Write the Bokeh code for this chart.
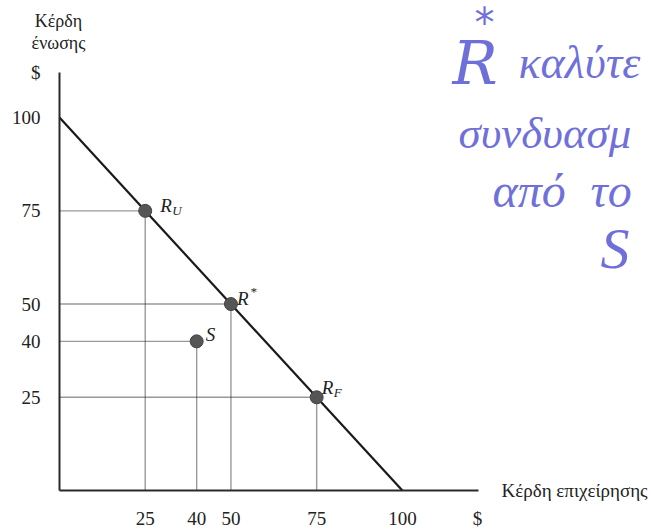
from bokeh.plotting import figure
from bokeh.models import Range1d, FixedTicker, Label, ColumnDataSource
from bokeh.core.properties import value
from bokeh.embed import file_html
from bokeh.resources import INLINE

# ---------------- data ----------------
point_main = ["R", "R", "S", "R"]
point_sub = ["U", "", "", "F"]
point_sup = ["", "*", "", ""]
point_x = [25, 50, 40, 75]
point_y = [75, 50, 40, 25]
frontier_x = [0, 100]
frontier_y = [100, 0]
x_ticks = [25, 40, 50, 75, 100]
y_ticks = [25, 40, 50, 75, 100]
y_title = ["Κέρδη", "ένωσης"]
x_title = "Κέρδη επιχείρησης"
unit = "$"
# handwritten note (visible part, cut by the page edge in the scan)
note_lines = ["καλύτε", "συνδυασμ", "από", "το", "S"]

# ---------------- layout ----------------
W, H = 651, 529
ORIGIN_X, ORIGIN_Y = 59, 490          # canvas pixel of the (0, 0) corner
X_AXIS_END, Y_AXIS_END = 122.2, 112.1  # axis extents (data units)
kx = (478 - ORIGIN_X) / X_AXIS_END
ky = (ORIGIN_Y - 72) / Y_AXIS_END
SERIF = value("Liberation Serif")


def dx(px):  # pixel offset -> data offset
    return px / kx


def dy(px):
    return px / ky


p = figure(width=W, height=H, output_backend="svg", toolbar_location=None,
           x_range=Range1d(-ORIGIN_X / kx, (W - ORIGIN_X) / kx),
           y_range=Range1d(-(H - ORIGIN_Y) / ky, ORIGIN_Y / ky),
           min_border=0)
p.outline_line_color = None
p.grid.visible = False
p.background_fill_color = "white"
p.border_fill_color = "white"

for ax, ticks, end, top in ((p.xaxis[0], x_ticks, X_AXIS_END - 0.3, X_AXIS_END),
                            (p.yaxis[0], y_ticks, Y_AXIS_END - 0.1, Y_AXIS_END)):
    ax.fixed_location = 0
    ax.bounds = (0, top)
    ax.ticker = FixedTicker(ticks=ticks + [end])
    ax.major_label_overrides = {end: unit}
    ax.axis_line_width = 2
    ax.axis_line_color = "#2a2a2a"
    ax.major_tick_line_color = None
    ax.minor_tick_line_color = None
    ax.major_tick_out = 0
    ax.major_tick_in = 0
    ax.major_label_text_font = "Liberation Serif"
    ax.major_label_text_font_size = "19px"
    ax.major_label_text_color = "#222222"
p.yaxis[0].major_label_standoff = 19
p.xaxis[0].major_label_standoff = 17

src = ColumnDataSource(dict(x=point_x, y=point_y, zero=[0] * len(point_x),
                            main=point_main, sub=point_sub, sup=point_sup))

# dotted guides
p.segment(x0="zero", y0="y", x1="x", y1="y", source=src, line_color="#333333",
          line_width=1.4, line_dash="1 1")
p.segment(x0="x", y0="zero", x1="x", y1="y", source=src, line_color="#333333",
          line_width=1.4, line_dash="1 1")

# frontier
p.line(frontier_x, frontier_y, line_color="#1a1a1a", line_width=2.2)

# points
p.scatter(x="x", y="y", source=src, size=13, fill_color="#555555",
          line_color="#444444")

# point labels
main_dx = [15, 6, 9, 5]
main_dy = [5, 6, 7, 10]
lab = ColumnDataSource(dict(
    x=[x + dx(o) for x, o in zip(point_x, main_dx)],
    y=[y + dy(o) for y, o in zip(point_y, main_dy)],
    t=point_main,
    sx=[x + dx(o + 12) for x, o in zip(point_x, main_dx)],
    sy=[y + dy(o - 5) for y, o in zip(point_y, main_dy)],
    st=point_sub,
    px=[x + dx(o + 13) for x, o in zip(point_x, main_dx)],
    py=[y + dy(o + 7) for y, o in zip(point_y, main_dy)],
    pt=point_sup))
p.text(x="x", y="y", text="t", source=lab, text_font=SERIF, text_font_style="italic",
       text_font_size="19px", text_color="#222222", text_baseline="alphabetic")
p.text(x="sx", y="sy", text="st", source=lab, text_font=SERIF, text_font_style="italic",
       text_font_size="13px", text_color="#222222", text_baseline="alphabetic")
p.text(x="px", y="py", text="pt", source=lab, text_font=SERIF, text_font_style="italic",
       text_font_size="13px", text_color="#222222", text_baseline="alphabetic")


def note(txt, x, y, size, align="left", color="#222222", style="normal",
         font="Liberation Serif", alpha=1.0):
    p.add_layout(Label(x=(x - ORIGIN_X) / kx, y=(ORIGIN_Y - y) / ky,
                       text=txt, text_font=font, text_font_style=style,
                       text_font_size=size, text_color=color, text_alpha=alpha,
                       text_align=align, text_baseline="middle"))


# axis titles
for txt, yy in zip(y_title, (20, 42)):
    note(txt, 58, yy, "18px", align="center")
note(x_title, 501, 490, "19px")

# handwritten note
HAND = "#5656d4"
note("R", 452, 62, "60px", color=HAND, style="italic", font="DejaVu Serif", alpha=0.85)
note("*", 474, 22, "40px", color=HAND, font="DejaVu Sans", alpha=0.85)
for txt, xx, yy, fs in zip(note_lines, (518, 458, 492, 590, 600), (62, 132, 190, 190, 248),
                           ("46px", "45px", "48px", "48px", "58px")):
    note(txt, xx, yy, fs, color=HAND, style="italic", alpha=0.85)

open("out.html", "w").write(file_html(p, INLINE))
